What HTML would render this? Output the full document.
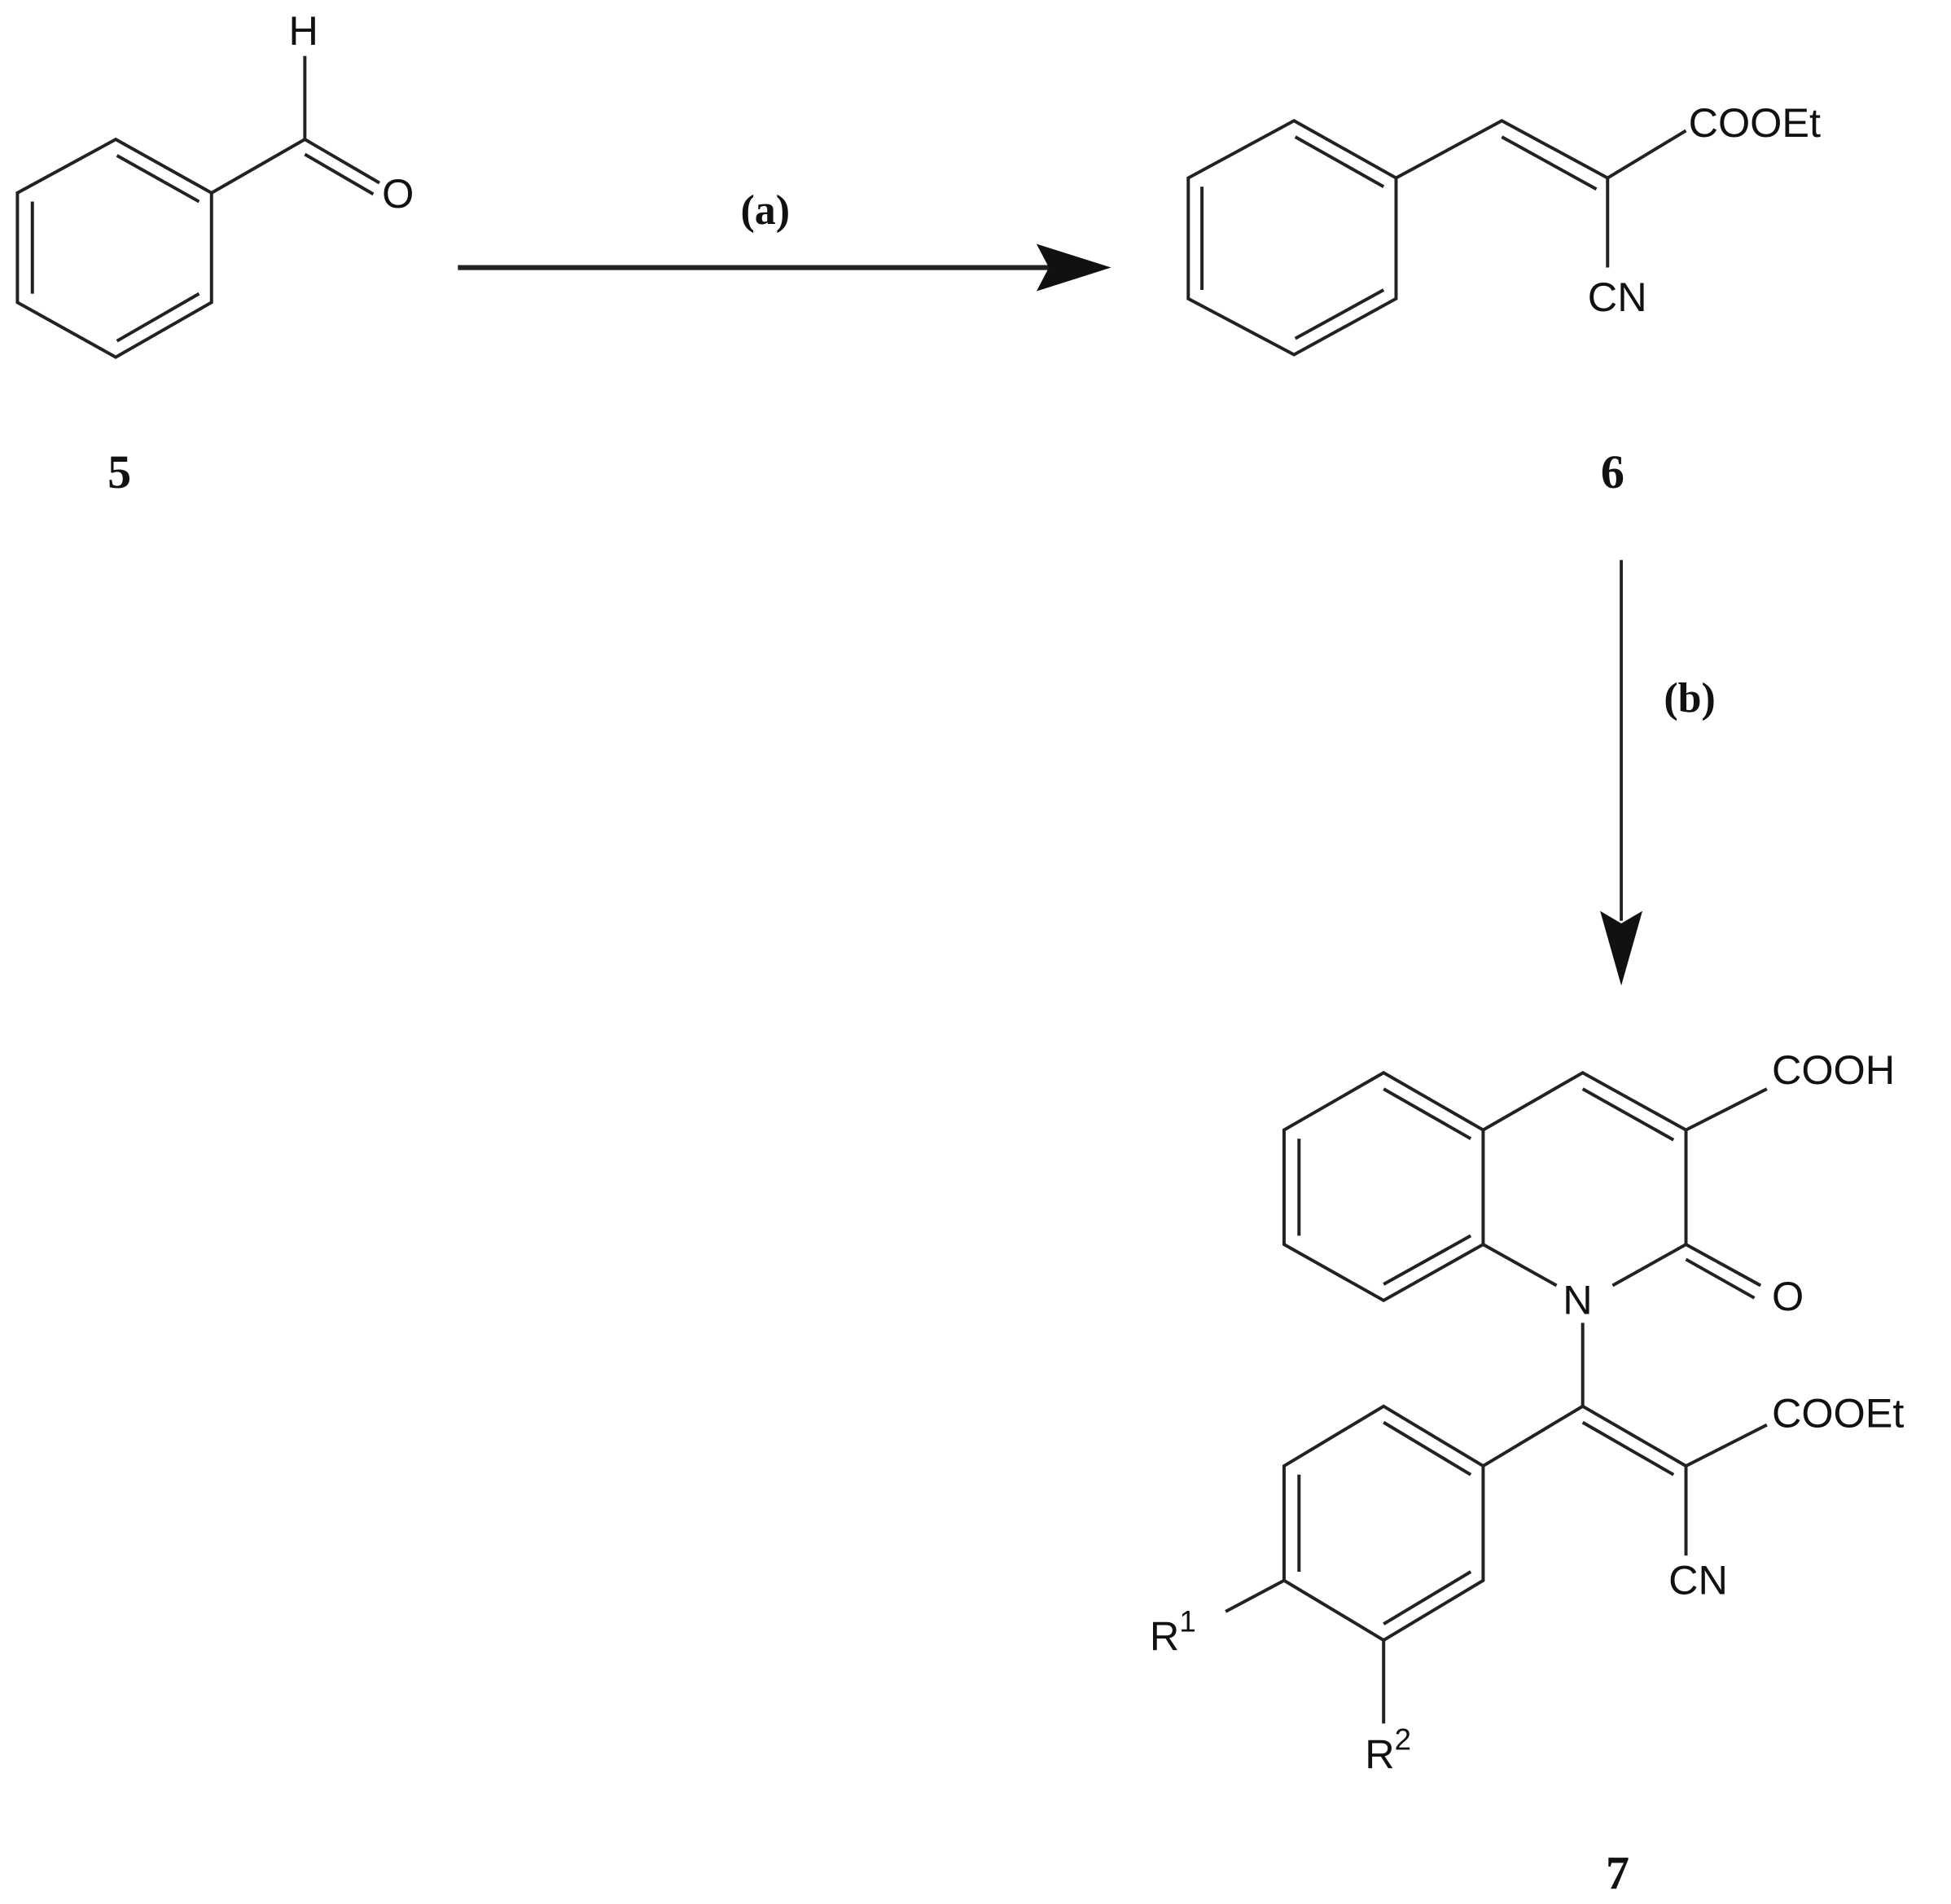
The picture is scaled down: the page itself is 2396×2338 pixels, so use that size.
<!DOCTYPE html>
<html><head><style>html,body{margin:0;padding:0;background:#fff;}svg{display:block}</style></head>
<body>
<svg width="2396" height="2338" viewBox="0 0 1568 1530" preserveAspectRatio="none" xmlns="http://www.w3.org/2000/svg">
<g stroke="#222" stroke-width="2.6" fill="none">
<polygon points="93,112 170,155 170,243 93,287 14,243 14,155"/>
<line x1="94" y1="125" x2="160" y2="162"/>
<line x1="26" y1="162" x2="26" y2="236"/>
<line x1="160" y1="236" x2="94" y2="274"/>
<line x1="170" y1="155" x2="245" y2="112"/>
<line x1="245" y1="112" x2="245" y2="45"/>
<line x1="245" y1="112" x2="305" y2="147"/>
<line x1="245" y1="124" x2="300" y2="156"/>
<line x1="368" y1="215" x2="850" y2="215" stroke-width="4"/>
<polygon points="1040,97 1122,143 1122,240 1040,285 955,240 955,143"/>
<line x1="1041" y1="110" x2="1112" y2="150"/>
<line x1="966" y1="150" x2="966" y2="233"/>
<line x1="1112" y1="233" x2="1041" y2="272"/>
<polyline points="1122,143 1207,97 1292,143"/>
<line x1="1207" y1="110" x2="1283" y2="152"/>
<line x1="1292" y1="143" x2="1355" y2="105"/>
<line x1="1292" y1="143" x2="1292" y2="215"/>
<line x1="1303" y1="450" x2="1303" y2="740" stroke-width="2.5"/>
<polygon points="1112,862 1192,908 1192,1000 1112,1045 1032,1000 1032,908"/>
<line x1="1112" y1="875" x2="1182" y2="915"/>
<line x1="1044" y1="915" x2="1044" y2="993"/>
<line x1="1182" y1="993" x2="1112" y2="1032"/>
<polyline points="1192,908 1272,862 1355,908 1355,1000 1296,1033"/>
<line x1="1192" y1="1000" x2="1251" y2="1033"/>
<line x1="1272" y1="875" x2="1345" y2="916"/>
<line x1="1355" y1="1000" x2="1415" y2="1033"/>
<line x1="1355" y1="1012" x2="1410" y2="1043"/>
<line x1="1355" y1="908" x2="1420" y2="875"/>
<line x1="1272" y1="1063" x2="1272" y2="1130"/>
<polyline points="1192,1178 1272,1130 1355,1178"/>
<line x1="1272" y1="1143" x2="1345" y2="1185"/>
<line x1="1355" y1="1178" x2="1420" y2="1145"/>
<line x1="1355" y1="1178" x2="1355" y2="1250"/>
<polygon points="1192,1178 1112,1130 1032,1178 1032,1270 1112,1318 1192,1270"/>
<line x1="1112" y1="1143" x2="1182" y2="1185"/>
<line x1="1044" y1="1185" x2="1044" y2="1263"/>
<line x1="1182" y1="1263" x2="1112" y2="1305"/>
<line x1="1032" y1="1270" x2="985" y2="1295"/>
<line x1="1112" y1="1318" x2="1112" y2="1385"/>
</g>
<polygon points="893,215 833,196 843,215 833,234" fill="#111"/>
<polygon points="1303,792 1286,732 1303,742 1320,732" fill="#111"/>
<g font-family="Liberation Sans, sans-serif" font-size="33" fill="#111">
<text x="232" y="36">H</text>
<text x="307" y="167">O</text>
<text x="1357" y="110">COOEt</text>
<text x="1276" y="250">CN</text>
<text x="1424" y="871">COOH</text>
<text x="1256" y="1056">N</text>
<text x="1424" y="1053">O</text>
<text x="1424" y="1147">COOEt</text>
<text x="1341" y="1281">CN</text>
<text x="924" y="1326">R<tspan font-size="24" dy="-15">1</tspan></text>
<text x="1097" y="1421">R<tspan font-size="24" dy="-15">2</tspan></text>
</g>
<g font-family="Liberation Serif, serif" font-weight="bold" fill="#111">
<text x="96" y="392" font-size="38" text-anchor="middle">5</text>
<text x="1296" y="392" font-size="38" text-anchor="middle">6</text>
<text x="1300" y="1518" font-size="38" text-anchor="middle">7</text>
<text x="615" y="180" font-size="34" text-anchor="middle">(a)</text>
<text x="1358" y="572" font-size="34" text-anchor="middle">(b)</text>
</g>
</svg>
</body></html>
